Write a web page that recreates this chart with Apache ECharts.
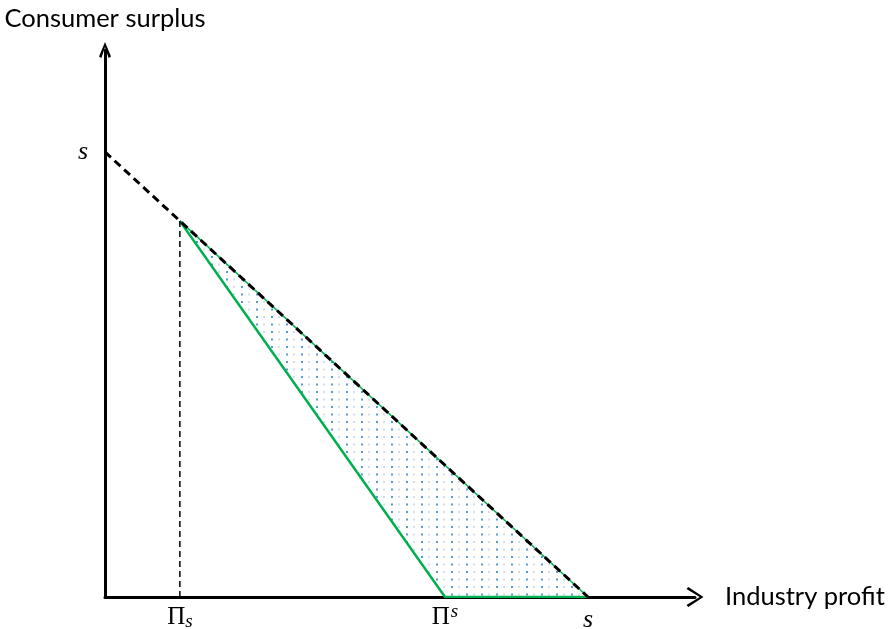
<!DOCTYPE html>
<html>
<head>
<meta charset="utf-8">
<script src="https://cdn.jsdelivr.net/npm/echarts@6/dist/echarts.min.js"></script>
<style>
html,body{margin:0;padding:0;background:#fff;}
#chart{width:891px;height:629px;}
</style>
</head>
<body>
<div id="chart"></div>
<script>
// ---- data (in units of the total surplus s) ----
const sVal = 1;            // total surplus s (intercept on both axes)
const piLow = 0.155;       // Π_s
const piHigh = 0.704;      // Π^s
const xMax = 1.2215;
const yMax = 1.229;
const frontier = [[0, sVal], [sVal, 0]];                       // CS + Π = s
const dropLine = [[piLow, sVal - piLow], [piLow, 0]];
const greenEdge = [[piLow, sVal - piLow], [piHigh, 0], [sVal, 0]];
const region = [[piLow, sVal - piLow], [piHigh, 0], [sVal, 0]];
const xLabelValues = [piLow, piHigh, sVal];
const yLabelValues = [sVal];
const xName = 'Industry profit';
const yName = 'Consumer surplus';

// dotted fill pattern
const pat = document.createElement('canvas');
pat.width = 15; pat.height = 15;
(function(){
  const c = pat.getContext('2d');
  c.fillStyle = '#5b9bd5';
  c.fillRect(1, 1, 2, 2);
  c.fillRect(1, 8.5, 2, 2);
  c.fillStyle = '#9fc2e6';
  c.fillRect(8.5, 1, 1, 2);
  c.fillRect(8.5, 8.5, 1, 2);
})();

const chart = echarts.init(document.getElementById('chart'), null, {renderer: 'canvas'});
const serif = 'Liberation Serif';
const sans = 'Lato';

chart.setOption({
  backgroundColor: '#fff',
  animation: false,
  grid: {left: 105, right: 196, top: 50, bottom: 32, containLabel: false, outerBoundsMode: 'none'},
  xAxis: {
    type: 'value', min: 0, max: xMax,
    splitLine: {show: false},
    axisTick: {show: false},
    axisLine: {
      show: true, onZero: false,
      lineStyle: {color: '#000', width: 3},
      symbol: ['none', 'path://M10,0 L20,15.2 L18,17 L10,3.8 L2,17 L0,15.2 Z'],
      symbolSize: [20, 17]
    },
    name: xName, nameLocation: 'end', nameGap: 30,
    nameTextStyle: {fontFamily: sans, fontSize: 25.5, color: '#000', align: 'left', verticalAlign: 'middle'},
    axisLabel: {
      show: true, customValues: xLabelValues, margin: 8,
      formatter: function (v) {
        if (Math.abs(v - piLow) < 1e-6) return '{P|Π}{sub|s}';
        if (Math.abs(v - piHigh) < 1e-6) return '{P|Π}{sup|s}';
        return '{it|s}';
      },
      rich: {
        P: {fontFamily: serif, fontSize: 25, color: '#000', verticalAlign: 'top', lineHeight: 26},
        sub: {fontFamily: serif, fontStyle: 'italic', fontSize: 19, color: '#000', verticalAlign: 'top', padding: [7, 0, 0, 0], lineHeight: 26},
        sup: {fontFamily: serif, fontStyle: 'italic', fontSize: 19, color: '#000', verticalAlign: 'top', padding: [-3, 0, 0, 1], lineHeight: 26},
        it: {fontFamily: serif, fontStyle: 'italic', fontSize: 26, color: '#000', lineHeight: 30}
      }
    }
  },
  yAxis: {
    type: 'value', min: 0, max: yMax,
    splitLine: {show: false},
    axisTick: {show: false},
    axisLine: {
      show: true, onZero: false,
      lineStyle: {color: '#000', width: 3},
      symbol: ['none', 'path://M6,0 L12,14.4 L9.6,16 L6,5 L2.4,16 L0,14.4 Z'],
      symbolSize: [12, 16]
    },
    name: yName, nameLocation: 'end', nameGap: 18,
    nameTextStyle: {fontFamily: sans, fontSize: 25.5, color: '#000', align: 'center'},
    axisLabel: {
      show: true, customValues: yLabelValues, margin: 17,
      formatter: function () { return '{it|s}'; },
      rich: {it: {fontFamily: serif, fontStyle: 'italic', fontSize: 26, color: '#000'}}
    }
  },
  series: [
    {
      type: 'custom', z: 1, silent: true,
      renderItem: function (params, api) {
        const pts = region.map(p => api.coord(p));
        return {type: 'polygon', shape: {points: pts},
          style: {fill: {image: pat, repeat: 'repeat'}, stroke: null}};
      },
      data: [0]
    },
    {
      type: 'line', z: 2, data: [[piLow, sVal - piLow], [sVal, 0]],
      symbol: 'none', lineStyle: {color: '#00b050', width: 1.5}
    },
    {
      type: 'line', z: 3, data: greenEdge, symbol: 'none',
      lineStyle: {color: '#00b050', width: 2.5, join: 'round'}
    },
    {
      type: 'line', z: 4, data: dropLine, symbol: 'none',
      lineStyle: {color: '#000', width: 1.5, type: [6, 4]}
    },
    {
      type: 'line', z: 5, data: frontier, symbol: 'none',
      lineStyle: {color: '#000', width: 3, type: [8, 5]}
    }
  ]
});
</script>
</body>
</html>
